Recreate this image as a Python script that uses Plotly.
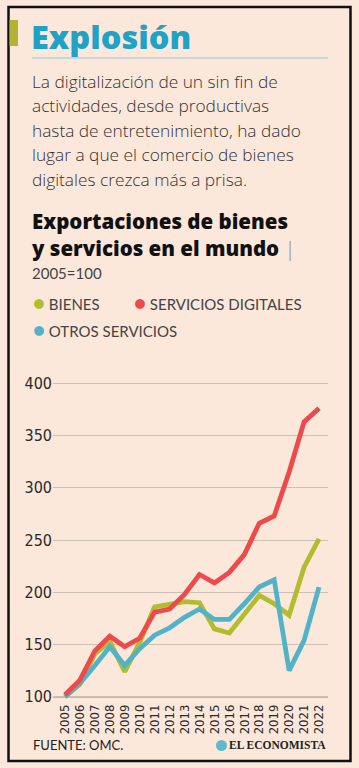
import plotly.graph_objects as go

years = list(range(2005, 2023))
bienes = [100, 112, 141, 153, 124, 152, 186, 189, 191, 190, 165, 161, 179, 197, 189, 178, 224, 251]
serv_digitales = [102, 116, 144, 158, 148, 156, 181, 184, 198, 217, 209, 219, 236, 266, 273, 315, 363, 376]
otros_servicios = [100, 113, 130, 148, 130, 146, 159, 166, 176, 184, 174, 174, 189, 205, 212, 125, 154, 205]
y_ticks = [100, 150, 200, 250, 300, 350, 400]

GREEN = "#b3bc2f"
RED = "#ec4a4b"
BLUE = "#52b2c8"
BG = "#fbe8db"

W, H = 359, 768
L, R, T, B = 53, 31, 379, 67
PW = W - L - R
PH = H - T - B


def px(x):
    return (x - L) / PW


def py(y):
    return (H - B - y) / PH


fig = go.Figure()
for name, vals, col in [("BIENES", bienes, GREEN),
                        ("OTROS SERVICIOS", otros_servicios, BLUE),
                        ("SERVICIOS DIGITALES", serv_digitales, RED)]:
    fig.add_trace(go.Scatter(x=years, y=vals, mode="lines", name=name,
                             line=dict(color=col, width=4.8), showlegend=False,
                             hoverinfo="x+y+name"))

NARROW = "Liberation Sans Narrow, DejaVu Sans Condensed, Roboto"
BODY = "Open Sans, Lato, sans-serif"
LEG = "Lato, Noto Sans, sans-serif"

fig.update_layout(
    width=W, height=H,
    margin=dict(l=L, r=R, t=T, b=B, pad=0),
    paper_bgcolor=BG, plot_bgcolor=BG,
    xaxis=dict(range=[2004.2, 2022.6], tickmode="array", tickvals=years,
               ticktext=[str(y) for y in years], tickangle=-90,
               showgrid=False, showline=False, zeroline=False, ticks="",
               tickfont=dict(family=NARROW, size=13, color="#2a2a2a")),
    yaxis=dict(range=[96, 404], tickmode="array", tickvals=y_ticks,
               showgrid=True, gridcolor="#cdbfb3", gridwidth=1,
               zeroline=False, showline=False, ticks="",
               tickfont=dict(family=NARROW, size=16, color="#2a2a2a")),
)

shapes = [
    # outer border
    dict(type="rect", xref="paper", yref="paper", x0=px(8.5), x1=px(350.5),
         y0=py(7), y1=py(761), line=dict(color="#111", width=2.5), fillcolor="rgba(0,0,0,0)", layer="above"),
    # green accent bar
    dict(type="rect", xref="paper", yref="paper", x0=px(9.5), x1=px(18), y0=py(20), y1=py(46),
         line=dict(width=0), fillcolor="#b2b532"),
    # title rule
    dict(type="line", xref="paper", yref="paper", x0=px(32), x1=px(328), y0=py(58), y1=py(58),
         line=dict(color="#b9d2d2", width=1.5)),
    # axis base line at 100
    dict(type="line", xref="paper", yref="y", x0=0, x1=1, y0=100, y1=100,
         line=dict(color="#8a8580", width=1.2), layer="below"),
    # logo circle
    dict(type="circle", xref="paper", yref="paper", x0=px(216), x1=px(227), y0=py(740), y1=py(751),
         line=dict(width=0), fillcolor="#5fb7d0"),
]
fig.update_layout(shapes=shapes)

ann = []


def text(x, y, s, size, color="#2b2b2b", family=BODY, weight=None, xanchor="left"):
    f = dict(family=family, size=size, color=color)
    if weight:
        f["weight"] = weight
    ann.append(dict(xref="paper", yref="paper", x=px(x), y=py(y), text=s, showarrow=False,
                    xanchor=xanchor, yanchor="middle", align="left", font=f))


text(29, 36, "Explosión", 32.5, color="#1fa2c6", weight=800)
para = ["La digitalización de un sin fin de",
        "actividades, desde productivas",
        "hasta de entretenimiento, ha dado",
        "lugar a que el comercio de bienes",
        "digitales crezca más a prisa."]
for i, line in enumerate(para):
    text(30, 81 + i * 24.6, line, 17.3, color="#333", weight=300)

text(29, 234.5, "Exportaciones de bienes<br>y servicios en el mundo <span style='color:#888;font-weight:300'>|</span>",
     20.5, color="#111", weight=800)
text(30, 273, "2005=100", 15, color="#444", family=LEG)

dot = "<span style='color:{c};font-size:20px'>●</span> "
text(31, 302, dot.format(c=GREEN) + "BIENES", 15, color="#444", family=LEG)
text(132, 302, dot.format(c=RED) + "SERVICIOS DIGITALES", 15, color="#444", family=LEG)
text(31, 329, dot.format(c=BLUE) + "OTROS SERVICIOS", 15, color="#444", family=LEG)

text(31, 745, "FUENTE: OMC.", 13, color="#222", family=LEG)
text(328, 745, "EL ECONOMISTA", 11.5, color="#222", family="Liberation Serif, DejaVu Serif",
     weight=700, xanchor="right")

fig.update_layout(annotations=ann)

fig.write_html("out.html", post_script="document.body.style.margin='0px';",
               config={"displayModeBar": False})
